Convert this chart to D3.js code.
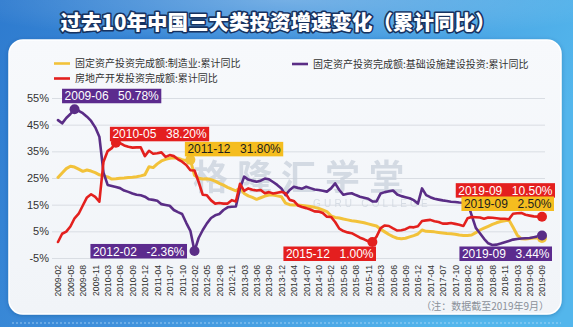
<!DOCTYPE html>
<html>
<head>
<meta charset="utf-8">
<script src="https://cdn.jsdelivr.net/npm/d3@7"></script>
<style>
  html, body { margin: 0; padding: 0; background: #2f86d6; }
  svg { display: block; }
</style>
</head>
<body>
<svg id="chart" width="573" height="327"></svg>
<script>
// Monthly cumulative readings (Jan is merged into Feb)
const months = [
  "2009-02","2009-03","2009-04","2009-05","2009-06","2009-07","2009-08","2009-09","2009-10","2009-11","2009-12",
  "2010-02","2010-03","2010-04","2010-05","2010-06","2010-07","2010-08","2010-09","2010-10","2010-11","2010-12",
  "2011-02","2011-03","2011-04","2011-05","2011-06","2011-07","2011-08","2011-09","2011-10","2011-11","2011-12",
  "2012-02","2012-03","2012-04","2012-05","2012-06","2012-07","2012-08","2012-09","2012-10","2012-11","2012-12",
  "2013-02","2013-03","2013-04","2013-05","2013-06","2013-07","2013-08","2013-09","2013-10","2013-11","2013-12",
  "2014-02","2014-03","2014-04","2014-05","2014-06","2014-07","2014-08","2014-09","2014-10","2014-11","2014-12",
  "2015-02","2015-03","2015-04","2015-05","2015-06","2015-07","2015-08","2015-09","2015-10","2015-11","2015-12",
  "2016-02","2016-03","2016-04","2016-05","2016-06","2016-07","2016-08","2016-09","2016-10","2016-11","2016-12",
  "2017-02","2017-03","2017-04","2017-05","2017-06","2017-07","2017-08","2017-09","2017-10","2017-11","2017-12",
  "2018-02","2018-03","2018-04","2018-05","2018-06","2018-07","2018-08","2018-09","2018-10","2018-11","2018-12",
  "2019-02","2019-03","2019-04","2019-05","2019-06","2019-07","2019-08","2019-09"
];

// 固定资产投资完成额:制造业:累计同比 (%)
const manufacturing = [
  25.2, 26.9, 28.5, 29.4, 29.1, 28.3, 27.5, 28.0, 27.6, 27.0, 26.2,
  25.8, 25.4, 24.6, 24.7, 24.9, 25.0, 25.2, 25.3, 25.5, 25.8, 26.2,
  29.2, 28.9, 30.3, 31.4, 32.0, 32.4, 32.6, 32.4, 31.9, 31.5, 31.8,
  26.0, 24.9, 24.6, 24.7, 24.4, 23.8, 23.0, 22.3, 21.5, 20.8, 20.2,
  21.3, 19.2, 18.3, 17.7, 17.0, 17.6, 18.2, 18.6, 18.6, 18.3, 18.0,
  15.6, 15.0, 14.9, 14.9, 14.7, 14.5, 14.3, 14.0, 13.6, 13.0, 12.4,
  10.8, 10.2, 10.0, 9.6, 9.3, 9.0, 8.8, 8.5, 8.2, 7.8, 7.4,
  7.0, 5.8, 4.8, 3.8, 3.0, 2.4, 2.2, 2.4, 2.9, 3.4, 4.0,
  5.5, 5.0, 4.9, 4.8, 4.6, 4.4, 4.2, 4.1, 3.9, 3.6, 3.4,
  3.4, 3.6, 4.5, 5.5, 6.2, 6.9, 7.6, 8.2, 8.7, 9.0, 9.3,
  6.5, 3.6, 2.2, 2.1, 2.3, 2.5, 2.6, 2.5
];

// 固定资产投资完成额:基础设施建设投资:累计同比 (%)
const infrastructure = [
  46.7, 45.5, 47.5, 49.0, 50.78, 50.2, 49.3, 48.0, 46.4, 44.0, 40.5,
  27.0, 22.4, 22.0, 21.6, 21.2, 20.3, 19.8, 19.2, 18.7, 18.5, 18.0,
  17.0, 16.8, 16.5, 15.2, 14.9, 14.6, 13.0, 12.2, 11.5, 8.2, 5.2,
  -2.36, 2.5, 5.5, 8.0, 10.0, 11.0, 11.5, 13.0, 14.0, 14.2, 14.3,
  21.1, 25.5, 24.4, 24.0, 23.6, 24.0, 24.8, 24.5, 23.5, 22.4, 21.1,
  18.6, 20.5, 21.7, 21.3, 21.0, 21.7, 21.2, 20.7, 20.5, 20.2, 19.9,
  21.1, 23.0, 20.5, 18.7, 19.1, 19.3, 18.6, 18.0, 17.6, 17.2, 16.2,
  16.2, 19.2, 19.7, 20.0, 20.3, 18.8, 18.2, 17.8, 17.4, 16.7, 15.4,
  21.1, 18.6, 17.8, 17.2, 16.9, 16.6, 16.4, 16.1, 16.0, 15.8, 15.7,
  15.9, 11.0, 6.3, 4.3, 2.2, 0.5, -0.1, 0.0, 0.4, 0.9, 1.4,
  1.9, 2.1, 2.3, 2.4, 2.5, 2.8, 3.1, 3.44
];

// 房地产开发投资完成额:累计同比 (%)
const realEstate = [
  1.0, 4.1, 4.9, 6.8, 9.9, 11.6, 14.7, 17.7, 18.9, 17.9, 16.1,
  31.1, 35.1, 36.2, 38.2, 38.1, 37.2, 36.7, 36.4, 36.5, 36.5, 33.2,
  35.2, 34.1, 34.3, 34.6, 32.9, 33.6, 33.2, 32.0, 31.1, 29.9, 27.9,
  27.8, 23.5, 18.7, 18.5, 16.6, 15.4, 15.6, 15.4, 15.4, 16.7, 16.2,
  22.8, 20.2, 21.1, 20.6, 20.3, 20.5, 19.3, 19.7, 19.2, 19.5, 19.8,
  19.3, 16.8, 16.4, 14.7, 14.1, 13.7, 13.2, 12.5, 12.4, 11.9, 10.5,
  10.4, 8.5, 6.0, 5.1, 4.6, 4.3, 3.5, 2.6, 2.0, 1.3, 1.0,
  3.0, 6.2, 7.2, 7.0, 6.1, 5.3, 5.4, 5.8, 6.6, 6.5, 6.9,
  8.9, 9.1, 9.3, 8.8, 8.5, 7.9, 7.9, 8.1, 7.8, 7.5, 7.0,
  9.9, 10.4, 10.3, 10.2, 9.7, 10.2, 10.1, 9.9, 9.7, 9.7, 9.5,
  11.6, 11.8, 11.9, 11.2, 10.9, 10.6, 10.5, 10.5
];

const tickLabels = [
  "2009-02","2009-05","2009-08","2009-11","2010-03","2010-06","2010-09","2010-12",
  "2011-04","2011-07","2011-10","2012-02","2012-05","2012-08","2012-11","2013-03",
  "2013-06","2013-09","2013-12","2014-04","2014-07","2014-10","2015-02","2015-05",
  "2015-08","2015-11","2016-03","2016-06","2016-09","2016-12","2017-04","2017-07",
  "2017-10","2018-02","2018-05","2018-08","2018-11","2019-03","2019-06","2019-09"
];
const yTicks = [-5, 5, 15, 25, 35, 45, 55];

const seriesNames = {
  manufacturing: "固定资产投资完成额:制造业:累计同比",
  infrastructure: "固定资产投资完成额:基础设施建设投资:累计同比",
  realEstate: "房地产开发投资完成额:累计同比"
};

// Highlighted points: series and month
const callouts = [
  { series: "infrastructure", date: "2009-06" },
  { series: "realEstate",     date: "2010-05" },
  { series: "manufacturing",  date: "2011-12" },
  { series: "infrastructure", date: "2012-02" },
  { series: "realEstate",     date: "2015-12" },
  { series: "realEstate",     date: "2019-09" },
  { series: "manufacturing",  date: "2019-09" },
  { series: "infrastructure", date: "2019-09" }
];

// ---------- presentation ----------
const colors = {
  manufacturing: "#f2c23a",
  infrastructure: "#5a2d86",
  realEstate: "#e3201e"
};
const boxColors = {
  manufacturing: "#f5bd1f",
  infrastructure: "#5c2b8e",
  realEstate: "#e41f1f"
};
const boxText = { manufacturing: "#1d1d1d", infrastructure: "#ffffff", realEstate: "#ffffff" };

// where each callout box sits relative to its dot: [dx, dy, anchor]
const calloutPlacement = [
  [-12.5, -20.5, "left"],
  [-6, -16, "left"],
  [-5.5, -18, "left"],
  [-7.5, -7, "right"],
  [3.6, 4.5, "right"],
  [13, -33.5, "right"],
  [12, -41.5, "right"],
  [10, 11, "right"]
];

const seriesValues = { manufacturing, infrastructure, realEstate };
const drawOrder = ["manufacturing", "infrastructure", "realEstate"];

const W = 573, H = 327;
const svg = d3.select("#chart");
const defs = svg.append("defs");

// background
const bg = defs.append("linearGradient").attr("id", "bg").attr("x1", 0).attr("y1", 0).attr("x2", 1).attr("y2", 0.3);
bg.append("stop").attr("offset", 0).attr("stop-color", "#2e7bcf");
bg.append("stop").attr("offset", 0.45).attr("stop-color", "#3f90db");
bg.append("stop").attr("offset", 1).attr("stop-color", "#53b6ec");
const glow = defs.append("radialGradient").attr("id", "glow").attr("cx", 0.5).attr("cy", 0.0).attr("r", 0.6);
glow.append("stop").attr("offset", 0).attr("stop-color", "#ffffff").attr("stop-opacity", 0.28);
glow.append("stop").attr("offset", 1).attr("stop-color", "#ffffff").attr("stop-opacity", 0);
const panelGrad = defs.append("linearGradient").attr("id", "panel").attr("x1", 0).attr("y1", 0).attr("x2", 0).attr("y2", 1);
panelGrad.append("stop").attr("offset", 0).attr("stop-color", "#f7f9fc");
panelGrad.append("stop").attr("offset", 1).attr("stop-color", "#f1f4f8");
const shadow = defs.append("filter").attr("id", "shadow").attr("x", -0.05).attr("y", -0.05).attr("width", 1.1).attr("height", 1.1);
shadow.append("feGaussianBlur").attr("in", "SourceAlpha").attr("stdDeviation", 2);
shadow.append("feOffset").attr("dx", 0).attr("dy", 1).attr("result", "b");
shadow.append("feFlood").attr("flood-color", "#0b3d7a").attr("flood-opacity", 0.35);
shadow.append("feComposite").attr("in2", "b").attr("operator", "in");
const fm = shadow.append("feMerge");
fm.append("feMergeNode");
fm.append("feMergeNode").attr("in", "SourceGraphic");

svg.append("rect").attr("width", W).attr("height", H).attr("fill", "url(#bg)");
svg.append("rect").attr("width", W).attr("height", 70).attr("fill", "url(#glow)");
svg.append("line").attr("x1", 12).attr("x2", 561).attr("y1", 323).attr("y2", 323)
  .attr("stroke", "#bfe0fa").attr("stroke-width", 1).attr("stroke-dasharray", "2,2").attr("opacity", 0.7);

// title
svg.append("text")
  .attr("x", 278).attr("y", 30)
  .attr("text-anchor", "middle")
  .attr("font-family", "'Noto Sans CJK SC', sans-serif")
  .attr("font-weight", 900)
  .attr("font-size", 20.5)
  .attr("fill", "#ffffff")
  .attr("stroke", "#17325f")
  .attr("stroke-width", 3.2)
  .attr("stroke-linejoin", "round")
  .attr("paint-order", "stroke")
  .text("过去10年中国三大类投资增速变化（累计同比）");

// white panel
svg.append("rect")
  .attr("x", 9).attr("y", 40).attr("width", 552).attr("height", 274).attr("rx", 14)
  .attr("fill", "url(#panel)").attr("stroke", "#ffffff").attr("stroke-width", 1.5)
  .attr("filter", "url(#shadow)");

// scales
const x = d3.scalePoint().domain(months).range([58, 542]);
const y = d3.scaleLinear().domain([-5, 55]).range([258, 98]);

// horizontal grid
const grid = svg.append("g").attr("transform", "translate(52,0)")
  .call(d3.axisLeft(y).tickValues(yTicks).tickSize(-493).tickFormat(""));
grid.select(".domain").remove();
grid.selectAll("line").attr("stroke", "#d9dde3").attr("stroke-width", 1);

// watermark
svg.append("text")
  .attr("x", 303).attr("y", 190)
  .attr("font-family", "'Liberation Sans', 'Noto Sans CJK SC', sans-serif")
  .attr("font-weight", 700)
  .attr("font-size", 35)
  .attr("letter-spacing", 9)
  .attr("text-anchor", "middle")
  .attr("fill", "#c9d1dc").attr("opacity", 0.75)
  .text("格隆汇学堂");
svg.append("text")
  .attr("x", 313).attr("y", 207)
  .attr("font-family", "'Liberation Sans', Arial, sans-serif")
  .attr("font-size", 10)
  .attr("letter-spacing", 3.2)
  .attr("fill", "#cfd6df").attr("opacity", 0.8)
  .text("GURU COLLEGE");

// y axis labels
const yAxis = svg.append("g").attr("transform", "translate(52,0)")
  .call(d3.axisLeft(y).tickValues(yTicks).tickSize(0).tickPadding(3).tickFormat(d => d + "%"));
yAxis.select(".domain").remove();
yAxis.selectAll("text")
  .attr("font-family", "'Liberation Sans', Arial, sans-serif")
  .attr("font-size", 11).attr("fill", "#333");

// x axis labels (rotated)
const xAxis = svg.append("g").attr("transform", "translate(0,261)")
  .call(d3.axisBottom(x).tickValues(tickLabels).tickSize(0));
xAxis.select(".domain").remove();
xAxis.selectAll("text")
  .attr("transform", "rotate(-90)")
  .attr("text-anchor", "end")
  .attr("x", -4).attr("y", 0).attr("dy", "0.34em")
  .attr("font-family", "'Liberation Sans', Arial, sans-serif")
  .attr("font-size", 8.6).attr("fill", "#333");

// series lines
const line = d3.line().x((d, i) => x(months[i])).y(d => y(d)).curve(d3.curveLinear);
const linesG = svg.append("g");
drawOrder.forEach(k => {
  linesG.append("path")
    .datum(seriesValues[k])
    .attr("d", line)
    .attr("fill", "none")
    .attr("stroke", colors[k])
    .attr("stroke-width", k === "manufacturing" ? 3 : 2.6)
    .attr("stroke-linejoin", "round")
    .attr("stroke-linecap", "round");
});

// callout dots
const dotsG = svg.append("g");
const pts = callouts.map(c => {
  const i = months.indexOf(c.date);
  const v = seriesValues[c.series][i];
  return { ...c, v, cx: x(c.date), cy: y(v) };
});
[2, 6, 0, 3, 7, 1, 4, 5].forEach(j => {
  const p = pts[j];
  dotsG.append("circle").attr("cx", p.cx).attr("cy", p.cy).attr("r", 5).attr("fill", colors[p.series]);
});

// callout boxes
const boxesG = svg.append("g");
pts.forEach((p, j) => {
  const [dx, dy, anchor] = calloutPlacement[j];
  const g = boxesG.append("g");
  const rect = g.append("rect");
  const font = { family: "'Liberation Sans', Arial, sans-serif", size: 12 };
  const t1 = g.append("text").text(p.date)
    .attr("font-family", font.family).attr("font-size", font.size).attr("fill", boxText[p.series]);
  const t2 = g.append("text").text(p.v.toFixed(2) + "%")
    .attr("font-family", font.family).attr("font-size", font.size).attr("fill", boxText[p.series]);
  const w1 = t1.node().getComputedTextLength();
  const w2 = t2.node().getComputedTextLength();
  const pad = 2.5, gap = 9.5, h = 14.5;
  const w = pad + w1 + gap + w2 + pad;
  const left = anchor === "right" ? p.cx + dx - w : p.cx + dx;
  const top = p.cy + dy;
  rect.attr("x", left).attr("y", top).attr("width", w).attr("height", h).attr("fill", boxColors[p.series]);
  t1.attr("x", left + pad).attr("y", top + h / 2).attr("dy", "0.36em");
  t2.attr("x", left + w - pad).attr("y", top + h / 2).attr("dy", "0.36em").attr("text-anchor", "end");
});

// legend
const legend = [
  { key: "manufacturing", x: 54, y: 63.5 },
  { key: "infrastructure", x: 292, y: 64 },
  { key: "realEstate", x: 54, y: 78.5 }
];
const lg = svg.append("g");
legend.forEach(l => {
  lg.append("line").attr("x1", l.x).attr("x2", l.x + 16).attr("y1", l.y).attr("y2", l.y)
    .attr("stroke", colors[l.key]).attr("stroke-width", 2.6);
  lg.append("text").attr("x", l.x + 21).attr("y", l.y).attr("dy", "0.35em")
    .attr("font-family", "'Noto Sans CJK SC', sans-serif")
    .attr("font-size", 10).attr("fill", "#333")
    .text(seriesNames[l.key]);
});

// source note
svg.append("text")
  .attr("x", 549).attr("y", 306).attr("dy", "0.35em")
  .attr("text-anchor", "end")
  .attr("font-family", "'Noto Sans CJK SC', sans-serif")
  .attr("font-size", 10).attr("fill", "#8a9099")
  .text("（注：数据截至2019年9月）");
</script>
</body>
</html>
